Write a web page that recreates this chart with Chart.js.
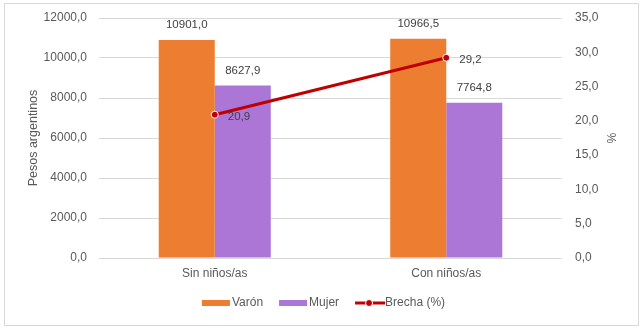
<!DOCTYPE html>
<html><head><meta charset="utf-8">
<script src="https://cdn.jsdelivr.net/npm/chart.js@4"></script>
<style>
html,body{margin:0;padding:0;background:#fff;}
#wrap{position:absolute;left:4px;top:3px;width:633px;height:321px;border:1px solid #d9d9d9;background:#fff;}
canvas{display:block}
</style></head><body>
<div id="wrap"><canvas id="c"></canvas></div>
<script>
const categories = ['Sin niños/as', 'Con niños/as'];
const varon = [10901.0, 10966.5];
const mujer = [8627.9, 7764.8];
const brecha = [20.9, 29.2];
const seriesNames = ['Varón', 'Mujer', 'Brecha (%)'];
const leftAxisTitle = 'Pesos argentinos';
const rightAxisTitle = '%';

const FONT = "'Liberation Sans', Arial, sans-serif";
const TXT = '#595959';
const fmt = v => Number(v).toFixed(1).replace('.', ',');

const labelsPlugin = {
  id: 'labelsPlugin',
  afterDatasetsDraw(chart) {
    const ctx = chart.ctx;
    ctx.save();
    ctx.fillStyle = '#404040';
    ctx.font = "11.5px " + FONT;
    ctx.textBaseline = 'middle';
    chart.data.datasets.forEach((ds, di) => {
      const meta = chart.getDatasetMeta(di);
      meta.data.forEach((el, i) => {
        const t = fmt(ds.data[i]);
        if (ds.type === 'line') {
          ctx.textAlign = 'left';
          ctx.fillText(t, el.x + 13, el.y + 2);
        } else {
          ctx.textAlign = 'center';
          ctx.fillText(t, el.x, el.y - 15);
        }
      });
    });
    ctx.restore();
  }
};

const legendPlugin = {
  id: 'legendPlugin',
  afterDraw(chart) {
    const ctx = chart.ctx;
    ctx.save();
    ctx.font = "12px " + FONT;
    ctx.textBaseline = 'middle';
    ctx.textAlign = 'left';
    const y = 299;
    const sw = 28, gap = 2, between = 16;
    const widths = seriesNames.map(n => ctx.measureText(n).width);
    let total = 0;
    widths.forEach((w, i) => { total += sw + gap + w + (i < widths.length - 1 ? between : 0); });
    let x = (chart.width - total) / 2 + 2;
    chart.data.datasets.forEach((ds, i) => {
      if (ds.type === 'line') {
        ctx.strokeStyle = ds.borderColor;
        ctx.lineWidth = 3;
        ctx.beginPath(); ctx.moveTo(x, y); ctx.lineTo(x + sw + 2, y); ctx.stroke();
        ctx.beginPath(); ctx.arc(x + sw / 2, y, 3.5, 0, Math.PI * 2);
        ctx.fillStyle = ds.borderColor; ctx.fill();
        ctx.strokeStyle = '#fff'; ctx.lineWidth = 1; ctx.stroke();
      } else {
        ctx.fillStyle = ds.backgroundColor;
        ctx.fillRect(x, y - 3, sw, 6);
      }
      ctx.fillStyle = TXT;
      ctx.fillText(seriesNames[i], x + sw + gap, y);
      x += sw + gap + widths[i] + between;
    });
    ctx.restore();
  }
};

const fixV = w => s => { s.width = w; s.paddingTop = 0; s.paddingBottom = 0; };

new Chart(document.getElementById('c'), {
  type: 'bar',
  data: {
    labels: categories,
    datasets: [
      { label: seriesNames[0], data: varon, backgroundColor: '#ED7D31', yAxisID: 'y', order: 2,
        categoryPercentage: 0.484, barPercentage: 1.0 },
      { label: seriesNames[1], data: mujer, backgroundColor: '#AB76D6', yAxisID: 'y', order: 2,
        categoryPercentage: 0.484, barPercentage: 1.0 },
      { type: 'line', label: seriesNames[2], data: brecha, yAxisID: 'y1', order: 0,
        borderColor: '#C00000', backgroundColor: '#C00000', borderWidth: 3,
        pointRadius: 3.5, pointBackgroundColor: '#C00000', pointBorderColor: '#ffffff', pointBorderWidth: 1 }
    ]
  },
  options: {
    responsive: true,
    maintainAspectRatio: false,
    animation: false,
    layout: { padding: { top: 14, left: 0, right: 0, bottom: 0 } },
    plugins: { legend: { display: false }, tooltip: { enabled: false } },
    scales: {
      x: {
        grid: { display: false, drawTicks: false },
        border: { display: false },
        ticks: { color: TXT, font: { family: FONT, size: 12 }, padding: 8 },
        afterFit: s => { s.height = 67; s.paddingLeft = 0; s.paddingRight = 0; }
      },
      y: {
        position: 'left', min: 0, max: 12000,
        ticks: { stepSize: 2000, color: TXT, font: { family: FONT, size: 12 }, padding: 12, callback: v => fmt(v) },
        grid: { color: '#d9d9d9', drawTicks: false, lineWidth: 1 },
        border: { display: false },
        title: { display: true, text: leftAxisTitle, color: TXT, font: { family: FONT, size: 12.5 }, padding: { top: 21, bottom: 0 } },
        afterFit: fixV(94)
      },
      y1: {
        position: 'right', min: 0, max: 35,
        ticks: { stepSize: 5, color: TXT, font: { family: FONT, size: 12 }, padding: 13, callback: v => fmt(v) },
        grid: { display: false, drawTicks: false },
        border: { display: false },
        title: { display: true, text: rightAxisTitle, color: TXT, font: { family: FONT, size: 12 }, padding: { top: 20, bottom: 0 } },
        afterFit: fixV(76)
      }
    }
  },
  plugins: [labelsPlugin, legendPlugin]
});
</script>
</body></html>
